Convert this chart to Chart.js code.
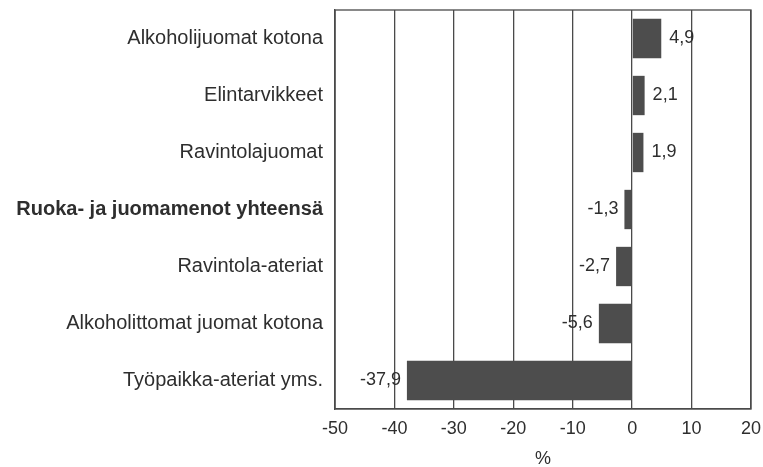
<!DOCTYPE html>
<html lang="fi">
<head>
<meta charset="UTF-8">
<title>Ruoka- ja juomamenot</title>
<style>
  body{margin:0;background:#fff;}
</style>
</head>
<body>
<canvas id="chart" width="763" height="467"></canvas>
<script src="https://cdn.jsdelivr.net/npm/chart.js"></script>
<script>
// data (muutos, %)
const categories = [
  'Alkoholijuomat kotona',
  'Elintarvikkeet',
  'Ravintolajuomat',
  'Ruoka- ja juomamenot yhteensä',
  'Ravintola-ateriat',
  'Alkoholittomat juomat kotona',
  'Työpaikka-ateriat yms.'
];
const changes = [4.9, 2.1, 1.9, -1.3, -2.7, -5.6, -37.9];
const boldIndex = 3;
const xMin = -50, xMax = 20, xStep = 10;
const xTitle = '%';

const FONT = '"Liberation Sans", Arial, sans-serif';
const TEXT = '#2e2e2e';
const LINE = '#4a4a4a';

// numbers next to bar ends, plus the box around the plot
const valueLabels = {
  id: 'valueLabels',
  afterDatasetsDraw(chart) {
    const ctx = chart.ctx;
    const area = chart.chartArea;
    ctx.save();
    ctx.strokeStyle = LINE;
    ctx.lineWidth = 1.3;
    ctx.strokeRect(area.left, area.top, area.right - area.left, area.bottom - area.top);
    ctx.font = '18px ' + FONT;
    ctx.fillStyle = TEXT;
    ctx.textBaseline = 'middle';
    chart.getDatasetMeta(0).data.forEach((bar, i) => {
      const v = changes[i];
      ctx.textAlign = v < 0 ? 'right' : 'left';
      ctx.fillText(v.toFixed(1).replace('.', ','), bar.x + (v < 0 ? -6 : 8), bar.y);
    });
    ctx.restore();
  }
};

new Chart(document.getElementById('chart'), {
  type: 'bar',
  data: {
    labels: categories,
    datasets: [{
      data: changes,
      backgroundColor: '#4d4d4d',
      borderWidth: 0,
      barPercentage: 0.69,
      categoryPercentage: 1.0
    }]
  },
  options: {
    indexAxis: 'y',
    responsive: false,
    animation: false,
    layout: {padding: 0},
    plugins: {legend: {display: false}, tooltip: {enabled: false}},
    scales: {
      x: {
        min: xMin,
        max: xMax,
        afterFit: s => { s.height = 58; s.paddingLeft = 0; s.paddingRight = 12; },
        ticks: {stepSize: xStep, color: TEXT, font: {family: FONT, size: 18}, padding: 9},
        grid: {color: LINE, lineWidth: 1.3, drawTicks: false},
        border: {color: LINE, width: 1.3},
        title: {display: true, text: xTitle, color: TEXT, font: {family: FONT, size: 18}, padding: {top: 0, bottom: -3}}
      },
      y: {
        afterFit: s => { s.width = 335; s.paddingTop = 10; s.paddingBottom = 0; },
        ticks: {
          color: TEXT,
          padding: 12,
          font: c => ({family: FONT, size: 20, weight: c.index === boldIndex ? 'bold' : 'normal'})
        },
        grid: {display: false, drawTicks: false},
        border: {color: LINE, width: 1.3}
      }
    }
  },
  plugins: [valueLabels]
});
</script>
</body>
</html>
